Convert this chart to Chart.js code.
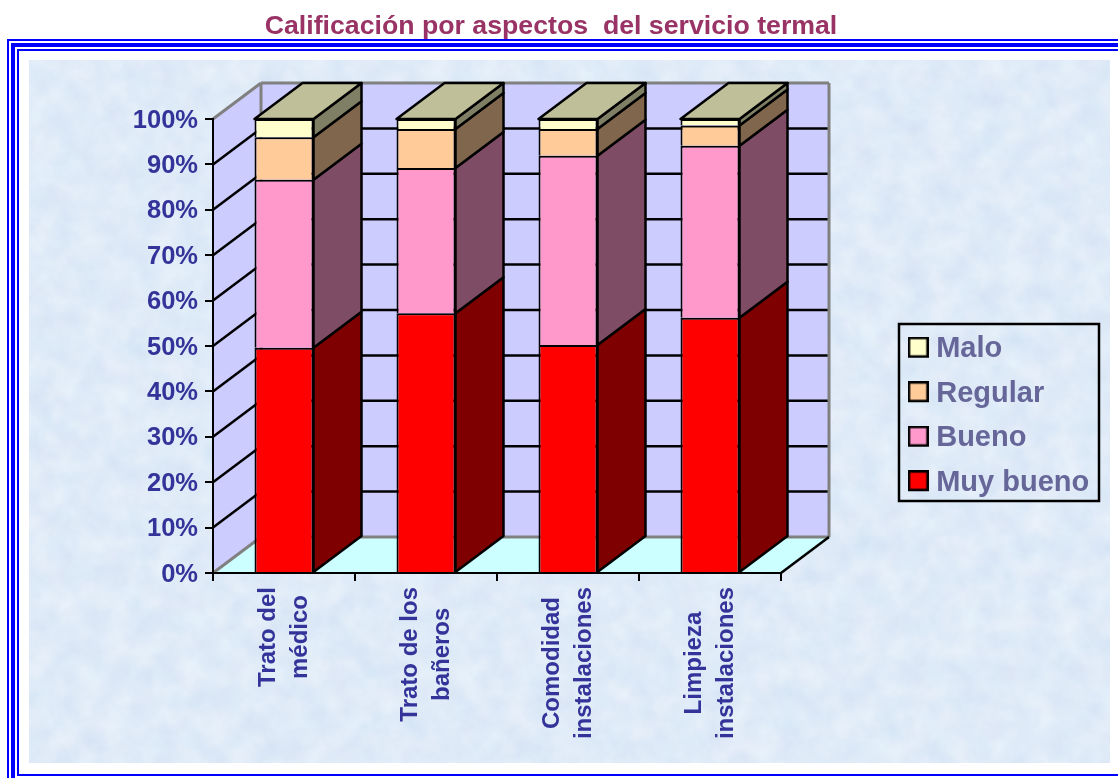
<!DOCTYPE html>
<html lang="es">
<head>
<meta charset="utf-8">
<title>Calificación por aspectos del servicio termal</title>
<script src="https://cdn.jsdelivr.net/npm/chart.js@4"></script>
<style>
html,body{margin:0;padding:0;background:#fff;width:1118px;height:778px;overflow:hidden}
.f{position:absolute;border-style:solid;border-color:#0000ff;box-sizing:border-box;width:1300px}
#f1{left:7px;top:39px;height:900px;border-width:2px}
#f2{left:11px;top:43px;height:900px;border-width:4px}
#f3{left:17px;top:49px;height:727px;border-width:2px}
#tex{position:absolute;left:29px;top:60px;width:1081px;height:703px;background-color:#dce9f7;overflow:hidden}
#tex svg{position:absolute;left:0;top:0}
canvas{position:absolute;left:0;top:0}
</style>
</head>
<body>
<div class="f" id="f1"></div><div class="f" id="f2"></div><div class="f" id="f3"></div>
<div id="tex"><svg width="1081" height="703"><filter id="n" x="0" y="0" width="100%" height="100%" color-interpolation-filters="sRGB"><feTurbulence type="fractalNoise" baseFrequency="0.04" numOctaves="4" seed="7"/><feColorMatrix type="matrix" values="0.09 0.03 0 0 0.815  0.07 0 0 0 0.885  0.03 0 0 0 0.955  0 0 0 0 1"/></filter><rect width="1081" height="703" filter="url(#n)"/></svg></div>
<canvas id="c" width="1118" height="778"></canvas>
<script>
const titleText = 'Calificación por aspectos  del servicio termal';
const categories = [['Trato del','médico'],['Trato de los','bañeros'],['Comodidad','instalaciones'],['Limpieza','instalaciones']];
const muyBueno = [49.6, 57.2, 50.2, 56.2];
const bueno    = [37.0, 32.0, 41.7, 37.9];
const regular  = [9.4, 8.6, 5.9, 4.5];
const malo     = [4.0, 2.2, 2.2, 1.4];
const yTicksStep = 10;

const DX = 48, DY = -36;
const FONT = '"Liberation Sans", Arial, sans-serif';
const INK = '#000', GREY = '#808080';

function poly(ctx, pts, fill, stroke, lw) {
  ctx.beginPath();
  pts.forEach((p, i) => i ? ctx.lineTo(p[0], p[1]) : ctx.moveTo(p[0], p[1]));
  ctx.closePath();
  if (fill) { ctx.fillStyle = fill; ctx.fill(); }
  if (stroke) { ctx.strokeStyle = stroke; ctx.lineWidth = lw || 2; ctx.stroke(); }
}
function seg(ctx, a, b, color, lw) {
  ctx.strokeStyle = color; ctx.lineWidth = lw || 2.5;
  ctx.beginPath(); ctx.moveTo(a[0], a[1]); ctx.lineTo(b[0], b[1]); ctx.stroke();
}
function shade(hex, k) {
  const n = parseInt(hex.slice(1), 16);
  return `rgb(${(n >> 16 & 255) * k | 0},${(n >> 8 & 255) * k | 0},${(n & 255) * k | 0})`;
}
function swatch(color) {
  const c = document.createElement('canvas');
  c.width = 21; c.height = 25;
  const g = c.getContext('2d');
  g.fillStyle = color; g.fillRect(1, 1, 19, 19);
  g.strokeStyle = INK; g.lineWidth = 2.5; g.strokeRect(1.25, 1.25, 18.5, 18.5);
  return c;
}

const depthPlugin = {
  id: 'depth',
  afterLayout(chart) {
    const lg = chart.legend, tb = chart.titleBlock;
    const w = lg.width, h = lg.height;
    lg.left = 899.2; lg.top = 319.2; lg.right = lg.left + w; lg.bottom = lg.top + h;
    tb.left = 0; tb.right = 1102; tb.top = 0;
    // centre the lines of each rotated category label inside their block
    const xs = chart.scales.x, ys = chart.scales.y, ctx = chart.ctx;
    ctx.save();
    ctx.font = xs.options.ticks.font.weight + ' ' + xs.options.ticks.font.size + 'px ' + FONT;
    xs.getLabelItems(chart.chartArea).forEach(it => {
      const lines = [].concat(it.label);
      const m = Math.max(...lines.map(s => ctx.measureText(s).width));
      it.options.textAlign = 'center';
      it.options.translation = [it.options.translation[0] - 15.5, it.options.translation[1] + m / 2];
    });
    ys.getLabelItems(chart.chartArea).forEach(it => {
      it.options.translation = [it.options.translation[0], it.options.translation[1] + 1.5];
    });
    ctx.restore();
  },
  beforeDraw(chart) {
    const ctx = chart.ctx, a = chart.chartArea, y = chart.scales.y;
    const L = a.left, R = a.right, T = a.top, B = a.bottom;
    ctx.save();
    ctx.lineJoin = 'miter';
    // walls and floor
    poly(ctx, [[L + DX, T + DY], [R + DX, T + DY], [R + DX, B + DY], [L + DX, B + DY]], '#ccccff');
    poly(ctx, [[L, T], [L + DX, T + DY], [L + DX, B + DY], [L, B]], '#ccccff');
    poly(ctx, [[L, B], [R, B], [R + DX, B + DY], [L + DX, B + DY]], '#ccffff');
    // grid lines
    y.ticks.forEach((t, i) => {
      const py = y.getPixelForTick(i);
      if (t.value === 0 || t.value === 100) return;
      seg(ctx, [L, py], [L + DX, py + DY], INK);
      seg(ctx, [L + DX, py + DY], [R + DX, py + DY], INK);
    });
    // grey wall edges
    seg(ctx, [L, T], [L + DX, T + DY], GREY, 3);
    seg(ctx, [L + DX, T + DY], [R + DX, T + DY], GREY, 3);
    seg(ctx, [R + DX, T + DY], [R + DX, B + DY], GREY, 3);
    seg(ctx, [L + DX, T + DY], [L + DX, B + DY], GREY, 3);
    seg(ctx, [L + DX, B + DY], [R + DX, B + DY], GREY, 3);
    seg(ctx, [L, B], [L + DX, B + DY], GREY, 3);
    seg(ctx, [R, B], [R + DX, B + DY], INK);
    // legend frame
    ctx.strokeStyle = INK; ctx.lineWidth = 2.5;
    ctx.strokeRect(899, 324, 200, 177);
    ctx.restore();
  },
  afterDatasetsDraw(chart) {
    const ctx = chart.ctx;
    ctx.save();
    ctx.lineJoin = 'round';
    const n = chart.data.datasets.length;
    chart.data.labels.forEach((_, i) => {
      for (let d = 0; d < n; d++) {
        const el = chart.getDatasetMeta(d).data[i];
        const r = el.x + el.width / 2, top = el.y, base = el.base;
        poly(ctx, [[r, base], [r, top], [r + DX, top + DY], [r + DX, base + DY]],
             shade(chart.data.datasets[d].backgroundColor, 0.5), INK, 2.5);
        if (d === n - 1) {
          const l = el.x - el.width / 2;
          poly(ctx, [[l, top], [r, top], [r + DX, top + DY], [l + DX, top + DY]],
               shade(chart.data.datasets[d].backgroundColor, 0.75), INK, 2.5);
        }
      }
    });
    ctx.restore();
  }
};

function ds(label, data, color) {
  return { label, data, backgroundColor: color, borderColor: INK, borderWidth: 2 };
}

new Chart(document.getElementById('c'), {
  type: 'bar',
  plugins: [depthPlugin],
  data: {
    labels: categories,
    datasets: [
      ds('Muy bueno', muyBueno, '#ff0000'),
      ds('Bueno', bueno, '#ff99cc'),
      ds('Regular', regular, '#ffcc99'),
      ds('Malo', malo, '#ffffcc')
    ]
  },
  options: {
    responsive: false,
    animation: false,
    events: [],
    layout: { padding: { left: 0, top: 0, right: 337, bottom: 0 } },
    datasets: { bar: { categoryPercentage: 1, barPercentage: 59 / 142 } },
    plugins: {
      tooltip: { enabled: false },
      title: {
        display: true, text: titleText, color: '#993366',
        font: { family: FONT, size: 26.7, weight: 'bold', lineHeight: 1.2 },
        padding: { top: 11, bottom: 76 }
      },
      legend: {
        position: 'chartArea', align: 'start', reverse: true,
        labels: {
          usePointStyle: true, pointStyleWidth: 7, boxHeight: 20, padding: 15.5, color: '#666699',
          font: { family: FONT, size: 29, weight: 'bold', lineHeight: 1.2 },
          generateLabels(chart) {
            const items = Chart.defaults.plugins.legend.labels.generateLabels(chart);
            items.forEach(it => { it.pointStyle = swatch(it.fillStyle); });
            return items;
          }
        }
      }
    },
    scales: {
      x: {
        stacked: true,
        afterFit(s) { s.height = 205; },
        border: { color: INK, width: 2 },
        grid: { display: true, offset: true, drawOnChartArea: false, color: INK, lineWidth: 2, tickLength: 8, tickColor: INK, tickWidth: 2 },
        ticks: {
          autoSkip: false, minRotation: 90, maxRotation: 90, padding: 6, color: '#333399',
          font: { family: FONT, size: 24, weight: 'bold', lineHeight: 1.34 }
        }
      },
      y: {
        stacked: true, min: 0, max: 100,
        afterFit(s) { s.width = 213; },
        border: { color: INK, width: 2 },
        grid: { display: true, drawOnChartArea: false, color: INK, lineWidth: 2, tickLength: 8, tickColor: INK, tickWidth: 2 },
        ticks: {
          stepSize: yTicksStep, padding: 7, color: '#333399',
          callback: v => v + '%',
          font: { family: FONT, size: 25.5, weight: 'bold' }
        }
      }
    }
  }
});
</script>
</body>
</html>
